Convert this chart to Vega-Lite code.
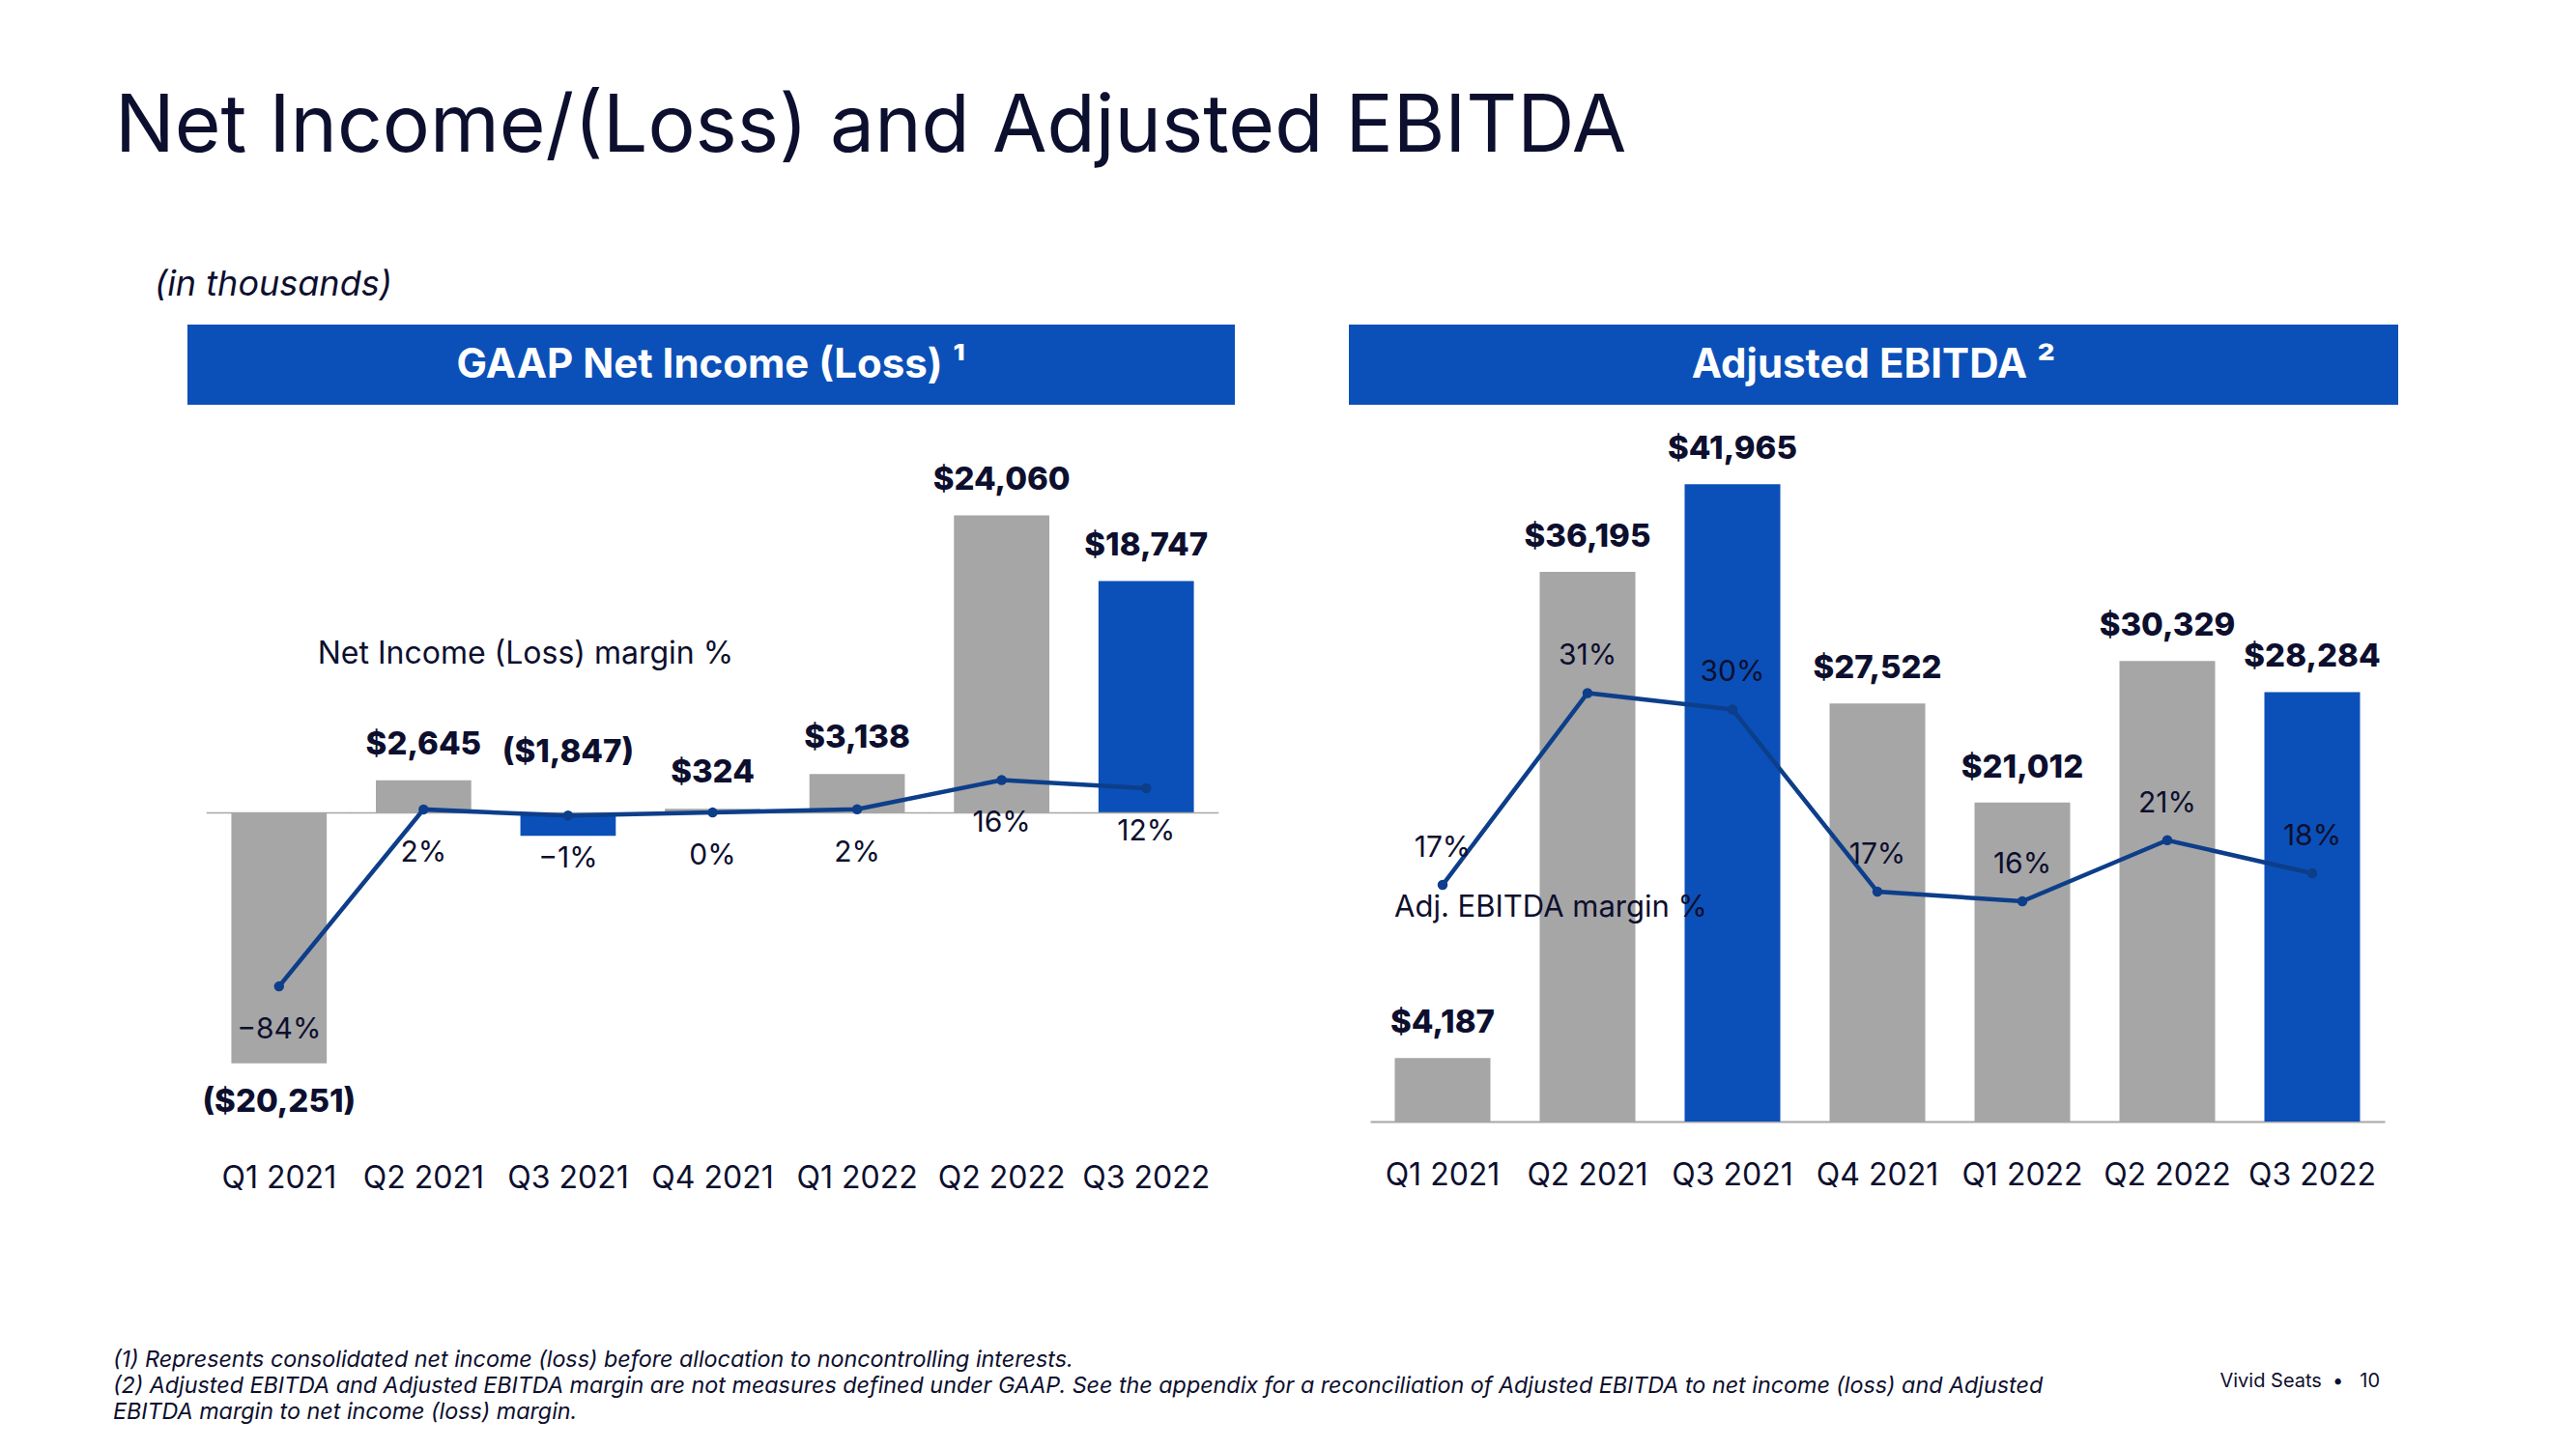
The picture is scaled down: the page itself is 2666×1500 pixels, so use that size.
{
  "$schema": "https://vega.github.io/schema/vega-lite/v6.json",
  "background": "white",
  "padding": {"left": 117, "top": 91, "right": 10, "bottom": 10},
  "autosize": {"type": "pad"},
  "config": {
    "font": "Inter",
    "view": {"stroke": null},
    "text": {"color": "#0d0f2e", "font": "Inter"},
    "axis": {"labelFont": "Inter"},
    "title": {"font": "Inter", "color": "#0d0f2e"}
  },
  "title": {"text": "Net Income/(Loss) and Adjusted EBITDA", "anchor": "start", "frame": "group", "dx": -75, "fontSize": 82, "fontWeight": 400, "baseline": "alphabetic", "offset": 38},
  "columns": 2,
  "spacing": {"row": 41, "column": 118},
  "bounds": "flush",
  "concat": [
    {
      "width": 1084, "height": 83,
      "view": {"fill": "#0b50b8", "stroke": null},
      "title": {"text": "(in thousands)", "anchor": "start", "frame": "group", "dx": -34, "fontSize": 36, "fontStyle": "italic", "fontWeight": 400, "baseline": "alphabetic", "offset": -6},
      "data": {"values": [{"t": "GAAP Net Income (Loss) ¹"}]},
      "mark": {"type": "text", "color": "white", "fontSize": 42, "fontWeight": "bold", "baseline": "middle"},
      "encoding": {"text": {"field": "t"}}
    },
    {
      "width": 1086, "height": 83,
      "view": {"fill": "#0b50b8", "stroke": null},
      "data": {"values": [{"t": "Adjusted EBITDA ²"}]},
      "mark": {"type": "text", "color": "white", "fontSize": 42, "fontWeight": "bold", "baseline": "middle"},
      "encoding": {"text": {"field": "t"}}
    },
    {
      "width": 1084, "height": 690,
      "title": {"text": ["(1) Represents consolidated net income (loss) before allocation to noncontrolling interests.", "(2) Adjusted EBITDA and Adjusted EBITDA margin are not measures defined under GAAP. See the appendix for a reconciliation of Adjusted EBITDA to net income (loss) and Adjusted", "EBITDA margin to net income (loss) margin."], "orient": "bottom", "anchor": "start", "frame": "group", "dx": -77, "fontSize": 23.3, "fontStyle": "italic", "fontWeight": 400, "lineHeight": 27, "baseline": "top", "offset": 162},
      "data": {"values": [
        {"q": "Q1 2021", "v": -20251, "m": -0.843},
        {"q": "Q2 2021", "v": 2645, "m": 0.017},
        {"q": "Q3 2021", "v": -1847, "m": -0.013},
        {"q": "Q4 2021", "v": 324, "m": 0.002},
        {"q": "Q1 2022", "v": 3138, "m": 0.018},
        {"q": "Q2 2022", "v": 24060, "m": 0.16},
        {"q": "Q3 2022", "v": 18747, "m": 0.12}
      ]},
      "encoding": {"x": {"field": "q", "type": "nominal", "sort": null, "scale": {"range": [20, 1067], "paddingInner": 0.34, "paddingOuter": 0.17}, "axis": {"title": null, "domain": false, "ticks": false, "tickSize": 0, "labelAngle": 0, "labelFontSize": 32, "labelColor": "#0d0f2e", "labelPadding": 79, "labelBaseline": "alphabetic"}}},
      "layer": [
        {"layer": [
          {"mark": {"type": "bar"}, "encoding": {
            "y": {"field": "v", "type": "quantitative", "scale": {"domain": [-24102, 29805], "nice": false, "zero": false}, "axis": null},
            "color": {"condition": {"test": "indexof(datum.q, 'Q3') === 0", "value": "#0b50b8"}, "value": "#a6a6a6"}}},
          {"mark": {"type": "tick", "size": 150, "thickness": 1.5, "color": "#a6a6a6", "opacity": 1}, "encoding": {"y": {"datum": 0, "type": "quantitative"}}},
          {"transform": [{"filter": "datum.v >= 0"}], "mark": {"type": "text", "fontSize": 33, "fontWeight": 800, "dy": -37}, "encoding": {"y": {"field": "v", "type": "quantitative"}, "text": {"field": "v", "type": "quantitative", "format": "($,.0f"}}},
          {"transform": [{"filter": "datum.v < -10000"}], "mark": {"type": "text", "fontSize": 33, "fontWeight": 800, "dy": 40}, "encoding": {"y": {"field": "v", "type": "quantitative"}, "text": {"field": "v", "type": "quantitative", "format": "($,.0f"}}},
          {"transform": [{"filter": "datum.v < 0 && datum.v > -10000"}], "mark": {"type": "text", "fontSize": 33, "fontWeight": 800, "dy": -86}, "encoding": {"y": {"field": "v", "type": "quantitative"}, "text": {"field": "v", "type": "quantitative", "format": "($,.0f"}}}
        ]},
        {"layer": [
          {"mark": {"type": "line", "color": "#0d3e8a", "strokeWidth": 4.5, "point": {"filled": true, "size": 110, "color": "#0d3e8a"}}, "encoding": {"y": {"field": "m", "type": "quantitative", "scale": {"domain": [-1.448, 1.791], "nice": false, "zero": false}, "axis": null}}},
          {"mark": {"type": "text", "fontSize": 30, "dy": 45}, "encoding": {"y": {"field": "m", "type": "quantitative"}, "text": {"field": "m", "type": "quantitative", "format": ".0%"}}},
          {"data": {"values": [{"t": "Net Income (Loss) margin %"}]}, "mark": {"type": "text", "fontSize": 32, "dx": -44}, "encoding": {"x": {"datum": "Q3 2021", "type": "nominal"}, "y": {"datum": 0.772, "type": "quantitative"}, "text": {"field": "t"}}}
        ]}
      ],
      "resolve": {"scale": {"y": "independent"}}
    },
    {
      "width": 1086, "height": 701,
      "title": {"text": "Vivid Seats\u00a0\u00a0•\u00a0\u00a0 10", "orient": "bottom", "anchor": "end", "frame": "group", "dx": -19, "fontSize": 20, "fontWeight": 400, "baseline": "top", "offset": 188},
      "data": {"values": [
        {"q": "Q1 2021", "v": 4187, "m": 0.1725},
        {"q": "Q2 2021", "v": 36195, "m": 0.3124},
        {"q": "Q3 2021", "v": 41965, "m": 0.3004},
        {"q": "Q4 2021", "v": 27522, "m": 0.1676},
        {"q": "Q1 2022", "v": 21012, "m": 0.1606},
        {"q": "Q2 2022", "v": 30329, "m": 0.2051},
        {"q": "Q3 2022", "v": 28284, "m": 0.181}
      ]},
      "encoding": {"x": {"field": "q", "type": "nominal", "sort": null, "scale": {"range": [22, 1072], "paddingInner": 0.34, "paddingOuter": 0.17}, "axis": {"title": null, "domain": true, "domainColor": "#a6a6a6", "domainWidth": 2, "ticks": false, "tickSize": 0, "labelAngle": 0, "labelFontSize": 32, "labelColor": "#0d0f2e", "labelPadding": 65, "labelBaseline": "alphabetic"}}},
      "layer": [
        {"layer": [
          {"mark": {"type": "bar"}, "encoding": {
            "y": {"field": "v", "type": "quantitative", "scale": {"domain": [0, 44593], "nice": false}, "axis": null},
            "color": {"condition": {"test": "indexof(datum.q, 'Q3') === 0", "value": "#0b50b8"}, "value": "#a6a6a6"}}},
          {"mark": {"type": "text", "fontSize": 33, "fontWeight": 800, "dy": -36}, "encoding": {"y": {"field": "v", "type": "quantitative"}, "text": {"field": "v", "type": "quantitative", "format": "($,.0f"}}}
        ]},
        {"layer": [
          {"mark": {"type": "line", "color": "#0d3e8a", "strokeWidth": 4.5, "point": {"filled": true, "size": 110, "color": "#0d3e8a"}}, "encoding": {"y": {"field": "m", "type": "quantitative", "scale": {"domain": [0, 0.4937], "nice": false}, "axis": null}}},
          {"mark": {"type": "text", "fontSize": 30, "dy": -38}, "encoding": {"y": {"field": "m", "type": "quantitative"}, "text": {"field": "m", "type": "quantitative", "format": ".0%"}}},
          {"data": {"values": [{"t": "Adj. EBITDA margin %"}]}, "mark": {"type": "text", "fontSize": 31, "dx": -38}, "encoding": {"x": {"datum": "Q2 2021", "type": "nominal"}, "y": {"datum": 0.1556, "type": "quantitative"}, "text": {"field": "t"}}}
        ]}
      ],
      "resolve": {"scale": {"y": "independent"}}
    }
  ]
}
